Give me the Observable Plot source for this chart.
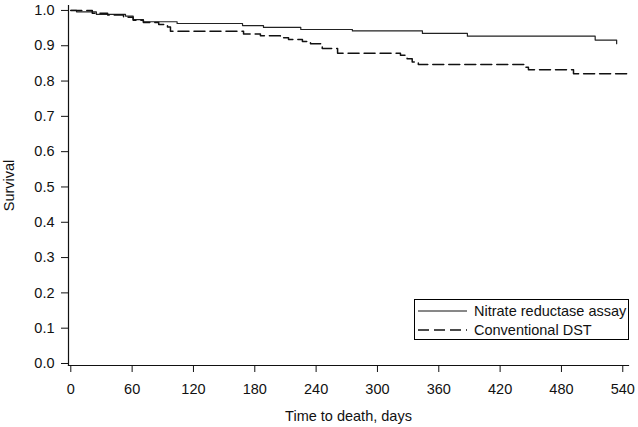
<!DOCTYPE html>
<html>
<head>
<meta charset="utf-8">
<script src="https://cdn.jsdelivr.net/npm/d3@7"></script>
<script src="https://cdn.jsdelivr.net/npm/@observablehq/plot@0.6"></script>
<style>
  html, body { margin: 0; padding: 0; background: #fff; }
  #wrap { position: relative; width: 638px; height: 427px; font-family: "Liberation Sans", Arial, sans-serif; }
  #legend { position: absolute; left: 414px; top: 299px; width: 213px; height: 39px; border: 1px solid #000; background: #fff; font-size: 14.5px; color: #111; }
  #legend .row { position: absolute; left: 0; height: 20px; display: flex; align-items: center; }
  #legend svg { margin-left: 3px; margin-right: 6px; }
</style>
</head>
<body>
<div id="wrap"></div>
<script>
// Nitrate reductase assay (solid)
const timesNRA = [0, 5.6, 25, 53.5, 61, 71, 104, 168, 188.5, 225, 275.5, 344, 388, 513, 534];
const survNRA  = [1.0, 0.996, 0.989, 0.984, 0.974, 0.968, 0.963, 0.957, 0.952, 0.946, 0.942, 0.935, 0.927, 0.916, 0.906];
// Conventional DST (dashed)
const timesDST = [0, 21, 36, 51.6, 61, 71, 86, 94.6, 97.5, 169, 185.5, 205, 213, 226.6, 234.5, 246, 261, 322.5, 329, 334, 340, 444.8, 447.7, 491.8, 544.6];
const survDST  = [1.0, 0.992, 0.987, 0.981, 0.972, 0.966, 0.960, 0.953, 0.941, 0.933, 0.928, 0.923, 0.918, 0.912, 0.906, 0.892, 0.879, 0.873, 0.863, 0.854, 0.847, 0.839, 0.832, 0.821, 0.821];

const xTicks = [0, 60, 120, 180, 240, 300, 360, 420, 480, 540];
const yTicks = [0, 0.1, 0.2, 0.3, 0.4, 0.5, 0.6, 0.7, 0.8, 0.9, 1.0];
const seriesNames = ["Nitrate reductase assay", "Conventional DST"];

const nra = timesNRA.map((t, i) => ({t, s: survNRA[i]}));
const dst = timesDST.map((t, i) => ({t, s: survDST[i]}));

const chart = Plot.plot({
  width: 638,
  height: 427,
  marginLeft: 68,
  marginRight: 10,
  marginTop: 5,
  marginBottom: 62,
  style: {fontFamily: '"Liberation Sans", Arial, sans-serif', fontSize: "14px", color: "#111", background: "#fff"},
  x: {domain: [-2.25, 545.6]},
  y: {domain: [-0.0057, 1.014]},
  marks: [
    Plot.frame({anchor: "left", stroke: "#111", strokeWidth: 1.2}),
    Plot.frame({anchor: "bottom", stroke: "#111", strokeWidth: 1.2}),
    Plot.axisX({ticks: xTicks, tickSize: 7, tickPadding: 11, tickFormat: d3.format("d"), fontSize: 14.5,
      label: "Time to death, days", labelAnchor: "center", labelArrow: "none", labelOffset: 55}),
    Plot.axisY({ticks: yTicks, tickSize: 7, tickPadding: 7, tickFormat: d3.format(".1f"), fontSize: 14.5,
      label: "Survival", labelAnchor: "center", labelArrow: "none", labelOffset: 65}),
    Plot.line(nra, {x: "t", y: "s", curve: "step-after", stroke: "#222", strokeWidth: 1.2}),
    Plot.line(dst, {x: "t", y: "s", curve: "step-after", stroke: "#111", strokeWidth: 1.5, strokeDasharray: "11,5"})
  ]
});
document.getElementById("wrap").appendChild(chart);

const legend = document.createElement("div");
legend.id = "legend";
const styles = [{dash: null, w: 1}, {dash: "11,5", w: 1.6}];
seriesNames.forEach((name, i) => {
  const row = document.createElement("div");
  row.className = "row";
  row.style.top = (i === 0 ? 1 : 20) + "px";
  const st = styles[i];
  row.innerHTML = `<svg width="50" height="10"><line x1="0" x2="49" y1="5" y2="5" stroke="#111" stroke-width="${st.w}" ${st.dash ? `stroke-dasharray="${st.dash}"` : ""}/></svg><span>${name}</span>`;
  legend.appendChild(row);
});
document.getElementById("wrap").appendChild(legend);
</script>
</body>
</html>
